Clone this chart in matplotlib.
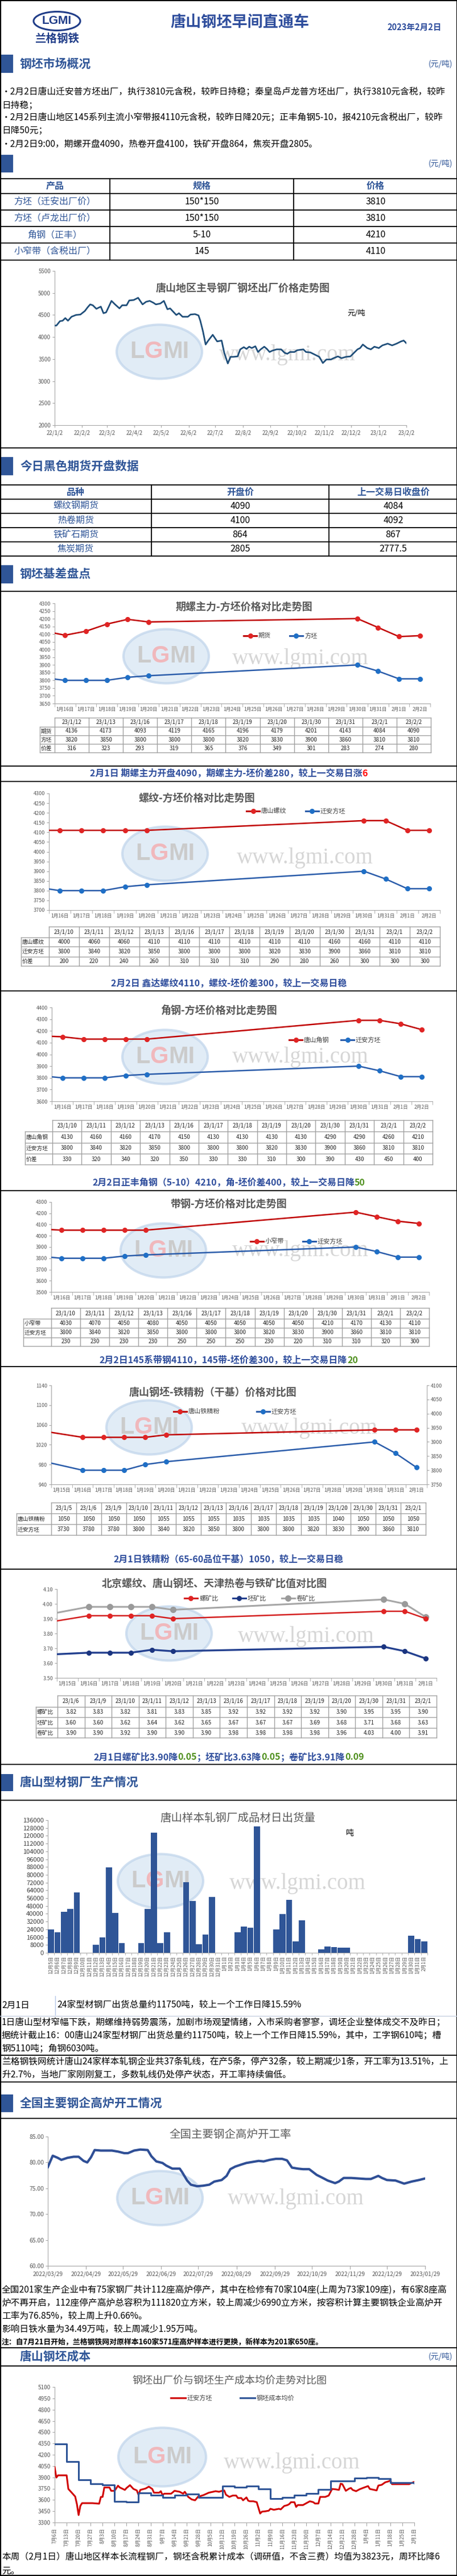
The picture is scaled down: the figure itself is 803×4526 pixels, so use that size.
"""Tangshan billet morning report (唐山钢坯早间直通车), redrawn as one tall figure."""

from datetime import datetime

import matplotlib

matplotlib.use("Agg")
import matplotlib.pyplot as plt
import numpy as np
import pandas as pd
from matplotlib.lines import Line2D
from matplotlib.offsetbox import AnnotationBbox, HPacker, TextArea
from matplotlib.patches import Ellipse, Rectangle
from matplotlib.ticker import FuncFormatter

plt.rcParams["font.family"] = ["Noto Sans CJK SC", "DejaVu Sans"]

W, H = 804, 4526
BLUE = "#2f5597"
NAVY = "#2e4d9c"
GREEN = "#4e8f1c"
AXIS = "#a6a6a6"
TICK = "#595959"
GRID = "#a0a0a0"
TXT = "#262626"
RED_LINE, RED_MARK = "#c00000", "#e02424"
BLUE_LINE, BLUE_MARK = "#2a5caa", "#1f6fc6"

# ---------------- data ----------------
market_product = ["方坯（迁安出厂价）", "方坯（卢龙出厂价）", "角钢（正丰）", "小窄带（含税出厂）"]
market_spec = ["150*150", "150*150", "5-10", "145"]
market_price = [3810, 3810, 4210, 4110]

futures_name = ["螺纹钢期货", "热卷期货", "铁矿石期货", "焦炭期货"]
futures_open = [4090, 4100, 864, 2805]
futures_prev = [4084, 4092, 867, 2777.5]

# 唐山地区主导钢厂钢坯出厂价: days after 2022-01-02
billet_day = [0, 2, 6, 9, 12, 15, 19, 24, 29, 34,
              37, 40, 43, 47, 52, 55, 58, 64, 68, 73,
              76, 81, 84, 89, 94, 99, 103, 107, 111, 114,
              119, 123, 127, 130, 137, 140, 144, 150, 153, 158,
              162, 164, 167, 170, 173, 178, 183, 188, 191, 195,
              198, 201, 206, 209, 213, 216, 219, 222, 226, 229,
              232, 236, 239, 242, 245, 250, 255, 259, 262, 265,
              270, 273, 280, 283, 288, 293, 298, 302, 306, 311,
              314, 319, 323, 328, 333, 336, 341, 344, 347, 352,
              356, 360, 365, 369, 375, 380, 385, 390, 393, 396]
billet_price = [4260, 4260, 4360, 4370, 4430, 4370, 4460, 4500, 4510, 4590,
                4670, 4740, 4720, 4640, 4690, 4540, 4560, 4820, 4740, 4650,
                4720, 4720, 4830, 4840, 4890, 4740, 4800, 4820, 4780, 4740,
                4760, 4820, 4630, 4650, 4500, 4540, 4460, 4460, 4510, 4520,
                4490, 4370, 4130, 3830, 3920, 4050, 3900, 3920, 3640, 3400,
                3550, 3550, 3560, 3720, 3770, 3730, 3780, 3750, 3790, 3660,
                3720, 3780, 3730, 3660, 3690, 3720, 3720, 3640, 3620, 3660,
                3660, 3700, 3720, 3660, 3650, 3600, 3550, 3410, 3490, 3490,
                3520, 3560, 3520, 3550, 3560, 3620, 3720, 3750, 3830, 3750,
                3720, 3780, 3750, 3810, 3850, 3810, 3850, 3900, 3920, 3860]
billet_ticks = ["22/1/2", "22/2/2", "22/3/2", "22/4/2", "22/5/2", "22/6/2", "22/7/2",
                "22/8/2", "22/9/2", "22/10/2", "22/11/2", "22/12/2", "23/1/2", "23/2/2"]

# 期螺主力-方坯
qiluo_dates = ["23/1/12", "23/1/13", "23/1/16", "23/1/17", "23/1/18", "23/1/19",
               "23/1/20", "23/1/30", "23/1/31", "23/2/1", "23/2/2"]
qiluo_futures = [4136, 4173, 4093, 4119, 4165, 4196, 4179, 4201, 4143, 4084, 4090]
qiluo_billet = [3820, 3850, 3800, 3800, 3800, 3820, 3830, 3900, 3860, 3810, 3810]
qiluo_spread = [316, 323, 293, 319, 365, 376, 349, 301, 283, 274, 280]

# 13-day tables: 螺纹 / 角钢 / 带钢 vs 迁安方坯
spot_dates = ["23/1/10", "23/1/11", "23/1/12", "23/1/13", "23/1/16", "23/1/17", "23/1/18",
              "23/1/19", "23/1/20", "23/1/30", "23/1/31", "23/2/1", "23/2/2"]
qianan_billet = [3800, 3840, 3820, 3850, 3800, 3800, 3800, 3820, 3830, 3900, 3860, 3810, 3810]
rebar_price = [4000, 4060, 4060, 4110, 4110, 4110, 4110, 4110, 4110, 4160, 4160, 4110, 4110]
rebar_spread = [200, 220, 240, 260, 310, 310, 310, 290, 280, 260, 300, 300, 300]
angle_price = [4130, 4160, 4160, 4170, 4150, 4130, 4130, 4130, 4130, 4290, 4290, 4260, 4210]
angle_spread = [330, 320, 340, 320, 350, 330, 330, 310, 300, 390, 430, 450, 400]
strip_price = [4030, 4070, 4050, 4080, 4050, 4050, 4050, 4050, 4050, 4210, 4170, 4130, 4110]
strip_spread = [230, 230, 230, 230, 250, 250, 250, 230, 220, 310, 310, 320, 300]

# 铁精粉
ore_dates = ["23/1/5", "23/1/6", "23/1/9", "23/1/10", "23/1/11", "23/1/12", "23/1/13", "23/1/16",
             "23/1/17", "23/1/18", "23/1/19", "23/1/20", "23/1/30", "23/1/31", "23/2/1"]
ore_price = [1050, 1050, 1050, 1050, 1055, 1055, 1055, 1035, 1035, 1035, 1035, 1040, 1050, 1050, 1050]
ore_billet = [3730, 3780, 3780, 3800, 3840, 3820, 3850, 3800, 3800, 3800, 3820, 3830, 3900, 3860, 3810]

# 比值
ratio_dates = ["23/1/6", "23/1/9", "23/1/10", "23/1/11", "23/1/12", "23/1/13", "23/1/16",
               "23/1/17", "23/1/18", "23/1/19", "23/1/20", "23/1/30", "23/1/31", "23/2/1"]
rebar_ratio = [3.82, 3.83, 3.82, 3.81, 3.83, 3.85, 3.92, 3.92, 3.92, 3.92, 3.90, 3.95, 3.95, 3.90]
billet_ratio = [3.60, 3.60, 3.62, 3.64, 3.62, 3.65, 3.67, 3.67, 3.67, 3.69, 3.68, 3.71, 3.68, 3.63]
coil_ratio = [3.90, 3.90, 3.92, 3.90, 3.90, 3.90, 3.98, 3.98, 3.98, 3.98, 3.96, 4.03, 4.00, 3.91]

# 唐山样本轧钢厂成品材日出货量 (2022-12-05 .. 2023-02-01)
ship_tons = [24000, 21000, 42300, 44900, 61900, 0, 0, 8200, 16000, 87400,
             40800, 10100, 0, 0, 10100, 44900, 123400, 10100, 20900, 0,
             0, 72300, 53100, 8600, 18900, 57000, 0, 0, 0, 20900,
             27100, 25400, 129400, 0, 0, 23800, 39400, 54200, 11500, 33000,
             0, 0, 3300, 6200, 5700, 5100, 5100, 0, 0, 0,
             0, 0, 0, 0, 0, 0, 17400, 13920, 11750]

# 全国主要钢企高炉开工率: days after 2022-03-29
blast_day = [0, 4, 8, 11, 16, 21, 25, 29, 32, 35,
             38, 43, 48, 52, 57, 62, 65, 70, 75, 81,
             84, 88, 93, 96, 101, 107, 109, 113, 116, 121,
             126, 131, 135, 141, 145, 148, 152, 157, 161, 166,
             171, 175, 180, 185, 190, 194, 198, 203, 207, 212,
             218, 223, 227, 233, 236, 240, 246, 252, 258, 262,
             268, 271, 275, 282, 289, 295, 301, 306]
blast_rate = [79.1, 81.3, 80.9, 80.5, 80.9, 81.1, 81.1, 80.3, 80.0, 81.0,
              82.4, 82.3, 82.3, 82.3, 82.1, 81.8, 81.8, 82.3, 82.5, 82.4,
              81.2, 80.2, 79.9, 79.4, 78.8, 78.8, 78.1, 76.5, 75.7, 75.4,
              75.5, 75.7, 76.3, 76.6, 77.4, 78.7, 79.2, 79.6, 79.9, 80.1,
              80.3, 80.2, 80.5, 80.7, 80.7, 80.4, 79.0, 78.8, 78.7, 78.7,
              77.6, 77.0, 76.5, 76.0, 76.3, 77.0, 77.0, 76.9, 76.8, 76.8,
              77.4, 77.0, 76.6, 76.5, 75.9, 76.3, 76.6, 76.9]
blast_ticks = ["2022/03/29", "2022/04/29", "2022/05/29", "2022/06/29", "2022/07/29", "2022/08/29",
               "2022/09/29", "2022/10/29", "2022/11/29", "2022/12/29", "2023/01/29"]

# 钢坯出厂价与成本: days after 2022-07-06
qianan_day = [0, 1, 2, 7, 8, 10, 12, 13, 14, 15,
              16, 19, 22, 26, 27, 28, 29, 32, 33, 35,
              37, 38, 41, 42, 44, 46, 48, 49, 50, 53,
              55, 57, 58, 61, 62, 63, 64, 66, 68, 70,
              73, 75, 76, 78, 80, 82, 84, 85, 87, 90,
              94, 96, 97, 99, 100, 102, 104, 106, 107, 109,
              110, 112, 113, 114, 116, 118, 120, 121, 123, 125,
              126, 128, 131, 132, 134, 136, 137, 138, 140, 141,
              142, 145, 147, 149, 151, 152, 154, 155, 158, 160,
              162, 164, 166, 167, 168, 170, 172, 173, 174, 176,
              178, 180, 183, 184, 188, 189, 191, 193, 195, 196,
              197, 200, 203, 207, 208, 210]
qianan_price = [4035, 3897, 3927, 3927, 3746, 3696, 3645, 3545, 3399, 3520,
                3557, 3557, 3557, 3550, 3640, 3640, 3766, 3766, 3721, 3721,
                3789, 3766, 3733, 3759, 3796, 3746, 3726, 3665, 3733, 3751,
                3776, 3746, 3696, 3696, 3716, 3665, 3683, 3683, 3683, 3721,
                3708, 3683, 3708, 3640, 3607, 3595, 3650, 3650, 3665, 3696,
                3716, 3708, 3716, 3726, 3670, 3640, 3658, 3658, 3625, 3625,
                3595, 3633, 3590, 3582, 3582, 3570, 3419, 3444, 3449, 3457,
                3482, 3469, 3482, 3474, 3519, 3532, 3545, 3570, 3570, 3507,
                3532, 3532, 3557, 3582, 3570, 3552, 3552, 3640, 3640, 3658,
                3746, 3741, 3733, 3816, 3809, 3721, 3751, 3759, 3733, 3716,
                3741, 3759, 3784, 3746, 3726, 3791, 3801, 3834, 3847, 3859,
                3809, 3809, 3809, 3809, 3822, 3839]
cost_avg = [4340, 4110, 3870, 3815, 3800, 3580, 3575, 3695, 3665, 3635,
            3665, 3675, 3635, 3635, 3785, 3770, 3785, 3745, 3620, 3635,
            3660, 3685, 3740, 3850, 3855, 3890, 3900, 3885, 3829, 3829,
            3823]

# ---------------- helpers ----------------
fig = plt.figure(figsize=(W / 100, H / 100), dpi=100)


def fx(x):
    return x / W


def fy(y):
    return 1 - y / H


def hline(y, x0=0, x1=W, color="black", lw=1.3):
    fig.add_artist(Line2D([fx(x0), fx(x1)], [fy(y), fy(y)], color=color, lw=lw,
                          transform=fig.transFigure, zorder=5))


def vline(x, y0, y1, color="black", lw=1.3):
    fig.add_artist(Line2D([fx(x), fx(x)], [fy(y0), fy(y1)], color=color, lw=lw,
                          transform=fig.transFigure, zorder=5))


def put(x, y, s, size=11.5, color="black", weight="normal", ha="left", va="center", **kw):
    fig.text(fx(x), fy(y), s, fontsize=size, color=color, fontweight=weight, ha=ha, va=va, **kw)


def to_date(s, fmt="%y/%m/%d"):
    return datetime.strptime(s, fmt)


def day_offsets(dates, start, fmt="%y/%m/%d"):
    return [(to_date(d, fmt) - start).days for d in dates]


def new_axes(left, top, right, bottom):
    ax = fig.add_axes([fx(left), fy(bottom), (right - left) / W, (bottom - top) / H])
    ax.set_facecolor("none")
    for side in ("top", "right"):
        ax.spines[side].set_visible(False)
    for side in ("left", "bottom"):
        ax.spines[side].set_color(AXIS)
    ax.tick_params(color=AXIS, labelcolor=TICK, labelsize=6.5, length=3, pad=2)
    return ax


def section(y0, y1, label, unit=False, bar=True):
    if bar:
        fig.add_artist(Rectangle((0, fy(y1)), fx(23), (y1 - y0) / H, facecolor=BLUE,
                                 edgecolor="none", transform=fig.transFigure, zorder=4))
    if label:
        put(35, (y0 + y1) / 2, label, 15, BLUE, "bold")
    if unit:
        put(795, (y0 + y1) / 2, "(元/吨)", 10, BLUE, ha="right")


def caption(y, parts, size=11.5):
    areas = [TextArea(s, textprops=dict(color=c, fontsize=size, fontweight="bold")) for s, c in parts]
    box = HPacker(children=areas, align="baseline", pad=0, sep=0)
    fig.add_artist(AnnotationBbox(box, (fx(402), fy(y)), xycoords="figure fraction",
                                  frameon=False, box_alignment=(0.5, 0.5)))


def watermark(cx, cy, wx, wy, w=150, h=95):
    fig.add_artist(Ellipse((fx(cx), fy(cy)), w / W, h / H, transform=fig.transFigure,
                           facecolor="#d8e6f4", edgecolor="#c2d6ec", lw=3, alpha=0.75, zorder=-2))
    letters = [("L", "#cbcbcb"), ("G", "#f0b8bc"), ("MI", "#cbcbcb")]
    areas = [TextArea(s, textprops=dict(color=c, fontsize=30, fontweight="bold",
                                        family="Liberation Sans")) for s, c in letters]
    box = HPacker(children=areas, align="baseline", pad=0, sep=0)
    logo = AnnotationBbox(box, (fx(cx), fy(cy)), xycoords="figure fraction",
                          frameon=False, box_alignment=(0.5, 0.5))
    logo.set_zorder(-1)
    fig.add_artist(logo)
    put(wx, wy, "www.lgmi.com", 28, "#d6d6d6", ha="center", family="Liberation Serif", zorder=-1)


def legend_entry(x0, x1, y, label, color, mcolor=None, ms=5.5, lw=2.2):
    fig.add_artist(Line2D([fx(x0), fx(x1)], [fy(y), fy(y)], color=color, lw=lw,
                          transform=fig.transFigure, zorder=5))
    if mcolor:
        fig.add_artist(Line2D([fx((x0 + x1) / 2)], [fy(y)], marker="o", ms=ms, color=mcolor,
                              transform=fig.transFigure, zorder=6))
    put(x1 + 3, y, label, 8, "#404040")


def big_table(xs, ys, header, rows):
    for y in ys:
        hline(y)
    for x in xs[1:-1]:
        vline(x, ys[0], ys[-1])
    centers = [(a + b) / 2 for a, b in zip(xs[:-1], xs[1:])]
    for c, h in zip(centers, header):
        put(c, (ys[0] + ys[1]) / 2, h, 11.5, BLUE, "bold", ha="center")
    for r, row in enumerate(rows):
        yc = (ys[r + 1] + ys[r + 2]) / 2
        for i, (c, v) in enumerate(zip(centers, row)):
            put(c, yc, f"{v:g}" if not isinstance(v, str) else v, 11.5,
                BLUE if i == 0 else "black", ha="center")


def chart_table(lab_x, x0, x1, ys, header, rows, fmt="{:.0f}", size=7):
    n = len(header)
    cw = (x1 - x0) / n
    hline(ys[0], x0, x1, GRID, 1.0)
    for y in ys[1:]:
        hline(y, lab_x, x1, GRID, 1.0)
    vline(lab_x, ys[1], ys[-1], GRID, 1.0)
    for i in range(n + 1):
        vline(x0 + i * cw, ys[0], ys[-1], GRID, 1.0)
    for i, h in enumerate(header):
        put(x0 + (i + 0.5) * cw, (ys[0] + ys[1]) / 2, h, size, TXT, ha="center")
    for r, (name, vals) in enumerate(rows):
        yc = (ys[r + 1] + ys[r + 2]) / 2
        put(lab_x + 2, yc, name, size, TXT)
        for i, v in enumerate(vals):
            put(x0 + (i + 0.5) * cw, yc, fmt.format(v), size, TXT, ha="center")


def category_axes(box, ylim, ystep, cat_start, fmt="{:.0f}", n=18):
    ax = new_axes(*box)
    ax.set_xlim(-0.5, n - 0.5)
    ax.set_ylim(*ylim)
    ax.set_yticks(np.arange(ylim[0], ylim[1] + ystep / 2, ystep))
    ax.yaxis.set_major_formatter(FuncFormatter(lambda v, p: fmt.format(v)))
    labels = [f"{d.month}月{d.day}日" for d in pd.date_range(cat_start, periods=n)]
    ax.set_xticks(range(n), labels)
    ax.set_xticks(np.arange(-0.5, n, 1), minor=True)
    ax.tick_params(axis="x", which="major", length=0, pad=4, labelsize=6.2)
    ax.tick_params(axis="x", which="minor", length=4, color=AXIS)
    return ax


def plot_series(ax, x, vals, line, mark, lw=1.8, ms=5.5):
    ax.plot(x, vals, color=line, lw=lw, marker="o", ms=ms, mfc=mark, mec=mark,
            solid_joinstyle="round", zorder=3)


# ---------------- page frame & header ----------------
vline(1, 0, H, lw=1.5)
vline(803, 0, H, lw=1.5)
hline(1, lw=1.5)
hline(4525, lw=1.5)

fig.add_artist(Ellipse((fx(100), fy(37)), 82 / W, 33 / H, transform=fig.transFigure,
                       facecolor="white", edgecolor="#1f3c88", lw=2.2))
put(100, 37, "LGMI", 15, "#1f3c88", "bold", ha="center", family="Liberation Sans")
put(100, 68, "兰格钢铁", 14, "#1f3c88", "bold", ha="center")
put(421, 39, "唐山钢坯早间直通车", 19.5, NAVY, "bold", ha="center")
put(728, 48, "2023年2月2日", 10.5, NAVY, "bold", ha="center")

section(96, 128, "钢坯市场概况", unit=True)
market_lines = [
    "•2月2日唐山迁安普方坯出厂，执行3810元含税，较昨日持稳；秦皇岛卢龙普方坯出厂，执行3810元含税，较昨",
    "日持稳；",
    "•2月2日唐山地区145系列主流小窄带报4110元含税，较昨日降20元；正丰角钢5-10，报4210元含税出厂，较昨",
    "日降50元；",
    "•2月2日9:00，期螺开盘4090，热卷开盘4100，铁矿开盘864，焦炭开盘2805。",
]
for i, line in enumerate(market_lines):
    put(3, 162 + i * 22.7, line, 11.3)

section(272, 303, "", unit=True)
big_table([0, 193, 516, W], [314, 340, 369, 398, 427, 457], ["产品", "规格", "价格"],
          list(zip(market_product, market_spec, market_price)))

# ---------------- chart 1: long price trend ----------------
start1 = datetime(2022, 1, 2)
ax = new_axes(96, 476, 714, 747)
ax.plot(billet_day, billet_price, color="#1f4e79", lw=2.0, zorder=3)
ax.set_xlim(0, (to_date(billet_ticks[-1]) - start1).days)
ax.set_ylim(2000, 5500)
ax.set_yticks(np.arange(2000, 5501, 500))
ax.set_xticks(day_offsets(billet_ticks, start1), billet_ticks)
ax.tick_params(axis="x", labelsize=7, pad=3)
ax.tick_params(axis="y", labelsize=7)
put(427, 507, "唐山地区主导钢厂钢坯出厂价格走势图", 13, "#595959", "bold", ha="center")
put(626, 550, "元/吨", 9.5, "black", ha="center")
watermark(280, 618, 505, 623)
hline(787)

section(803, 835, "今日黑色期货开盘数据")
big_table([0, 266, 578, W], [852, 877, 902, 927, 952, 977], ["品种", "开盘价", "上一交易日收盘价"],
          list(zip(futures_name, futures_open, futures_prev)))
section(993, 1025, "钢坯基差盘点")
hline(1039)

# ---------------- 期螺主力-方坯 ----------------
cat16 = datetime(2023, 1, 16)
ax = category_axes((96, 1060, 756, 1236), (3650, 4300), 50, cat16)
x = day_offsets(qiluo_dates, cat16)
plot_series(ax, x, qiluo_futures, RED_LINE, RED_MARK)
plot_series(ax, x, qiluo_billet, BLUE_LINE, BLUE_MARK)
put(429, 1066, "期螺主力-方坯价格对比走势图", 13, "#595959", "bold", ha="center")
legend_entry(428, 451, 1117, "期货", RED_LINE, RED_MARK)
legend_entry(509, 532, 1117, "方坯", BLUE_LINE, BLUE_MARK)
watermark(292, 1153, 528, 1157)
chart_table(70, 96, 757, [1261, 1277, 1292, 1307, 1322], qiluo_dates,
            [("期货", qiluo_futures), ("方坯", qiluo_billet), ("价差", qiluo_spread)])
hline(1346)
caption(1359, [("2月1日 期螺主力开盘4090，期螺主力-坯价差280，较上一交易日涨", NAVY), ("6", "red")])
hline(1373)

# ---------------- 螺纹-方坯 ----------------
ax = category_axes((86, 1394, 773, 1599), (3700, 4300), 50, cat16)
x = day_offsets(spot_dates, cat16)
plot_series(ax, x, rebar_price, RED_LINE, RED_MARK)
plot_series(ax, x, qianan_billet, BLUE_LINE, BLUE_MARK)
put(346, 1402, "螺纹-方坯价格对比走势图", 13, "#595959", "bold", ha="center")
legend_entry(433, 456, 1425, "唐山螺纹", RED_LINE, RED_MARK)
legend_entry(537, 560, 1425, "迁安方坯", BLUE_LINE, BLUE_MARK)
watermark(290, 1500, 536, 1507)
chart_table(37, 86, 773, [1628, 1647, 1663, 1681, 1697], spot_dates,
            [("唐山螺纹", rebar_price), ("迁安方坯", qianan_billet), ("价差", rebar_spread)])
caption(1728, [("2月2日 鑫达螺纹4110，螺纹-坯价差300，较上一交易日稳", NAVY)])
hline(1741)

# ---------------- 角钢-方坯 ----------------
ax = category_axes((91, 1770, 760, 1935), (3600, 4400), 100, cat16)
plot_series(ax, x, angle_price, RED_LINE, RED_MARK)
plot_series(ax, x, qianan_billet, BLUE_LINE, BLUE_MARK)
put(384, 1775, "角钢-方坯价格对比走势图", 13, "#595959", "bold", ha="center")
legend_entry(508, 531, 1827, "唐山角钢", RED_LINE, RED_MARK)
legend_entry(599, 622, 1827, "迁安方坯", BLUE_LINE, BLUE_MARK)
watermark(290, 1857, 528, 1858)
chart_table(44, 92, 760, [1968, 1988, 2008, 2027, 2046], spot_dates,
            [("唐山角钢", angle_price), ("迁安方坯", qianan_billet), ("价差", angle_spread)])
caption(2078, [("2月2日正丰角钢（5-10）4210，角-坯价差400，较上一交易日降", NAVY), ("50", GREEN)])
hline(2092)

# ---------------- 带钢-方坯 ----------------
ax = category_axes((90, 2112, 754, 2270), (3500, 4300), 100, cat16)
plot_series(ax, x, strip_price, RED_LINE, RED_MARK)
plot_series(ax, x, qianan_billet, BLUE_LINE, BLUE_MARK)
put(401, 2116, "带钢-方坯价格对比走势图", 13, "#595959", "bold", ha="center")
legend_entry(440, 463, 2181, "小窄带", RED_LINE, RED_MARK)
legend_entry(532, 555, 2181, "迁安方坯", BLUE_LINE, BLUE_MARK)
watermark(287, 2197, 528, 2198)
chart_table(41, 90, 754, [2298, 2317, 2333, 2350, 2365], spot_dates,
            [("小窄带", strip_price), ("迁安方坯", qianan_billet), ("", strip_spread)])
caption(2390, [("2月2日145系带钢4110，145带-坯价差300，较上一交易日降", NAVY), ("20", GREEN)])
hline(2401)

# ---------------- 钢坯-铁精粉 ----------------
cat15 = datetime(2023, 1, 15)
ax = category_axes((90, 2434, 750, 2608), (940, 1140), 40, cat15)
ax2 = ax.twinx()
ax2.set_facecolor("none")
ax2.set_ylim(3750, 4100)
ax2.set_yticks(np.arange(3750, 4101, 50))
for side in ("top", "left", "bottom"):
    ax2.spines[side].set_visible(False)
ax2.spines["right"].set_color(AXIS)
ax2.tick_params(color=AXIS, labelcolor=TICK, labelsize=6.5, length=3, pad=2)
x = day_offsets(ore_dates, cat15)
plot_series(ax, x, ore_price, RED_LINE, RED_MARK)
plot_series(ax2, x, ore_billet, BLUE_LINE, BLUE_MARK)
put(374, 2447, "唐山钢坯-铁精粉（干基）价格对比图", 13, "#595959", "bold", ha="center")
legend_entry(305, 328, 2480, "唐山铁精粉", RED_LINE, RED_MARK)
legend_entry(451, 474, 2480, "迁安方坯", BLUE_LINE, BLUE_MARK)
watermark(262, 2508, 544, 2510)
chart_table(29, 90, 748, [2640, 2659, 2678, 2697], ore_dates,
            [("唐山铁精粉", ore_price), ("迁安方坯", ore_billet)])
caption(2740, [("2月1日铁精粉（65-60品位干基）1050，较上一交易日稳", NAVY)])
hline(2757)

# ---------------- 比值 ----------------
ax = category_axes((100, 2792, 767, 2948), (3.5, 4.1), 0.1, cat15, fmt="{:.2f}")
x = day_offsets(ratio_dates, cat15)
plot_series(ax, x, coil_ratio, "#a6a6a6", "#9a9a9a", lw=2.2, ms=7)
plot_series(ax, x, rebar_ratio, "#d42020", "#e02424")
plot_series(ax, x, billet_ratio, "#23408f", "#1b3580", lw=2.4)
put(377, 2783, "北京螺纹、唐山钢坯、天津热卷与铁矿比值对比图", 13, "#595959", "bold", ha="center")
legend_entry(324, 347, 2808, "螺矿比", "#d42020", "#e02424")
legend_entry(409, 432, 2808, "坯矿比", "#23408f", "#1b3580")
legend_entry(495, 518, 2808, "卷矿比", "#a6a6a6", "#9a9a9a", ms=7)
watermark(297, 2870, 538, 2875)
chart_table(63, 101, 767, [2979, 2999, 3017, 3036, 3053], ratio_dates,
            [("螺矿比", rebar_ratio), ("坯矿比", billet_ratio), ("卷矿比", coil_ratio)], fmt="{:.2f}")
caption(3087, [("2月1日螺矿比3.90降", NAVY), ("0.05", GREEN), ("；坯矿比3.63降", NAVY), ("0.05", GREEN),
               ("；卷矿比3.91降", NAVY), ("0.09", GREEN)])
hline(3100)

# ---------------- 型材出货量 ----------------
section(3117, 3147, "唐山型材钢厂生产情况")
hline(3163)
ship_dates = pd.date_range("2022-12-05", "2023-02-01")
ship_labels = [f"{d.month}月{d.day}日" for d in ship_dates]
ax = new_axes(84, 3198, 751, 3431)
ax.bar(range(len(ship_tons)), ship_tons, width=0.95, color=BLUE, zorder=3)
ax.set_xlim(-0.5, len(ship_tons) - 0.5)
ax.set_ylim(0, 136000)
ax.set_yticks(np.arange(0, 136001, 8000))
ax.set_xticks(range(len(ship_tons)), ship_labels, rotation=90)
ax.set_xticks(np.arange(-0.5, len(ship_tons), 1), minor=True)
ax.tick_params(axis="x", which="major", length=0, pad=4, labelsize=6.2)
ax.tick_params(axis="x", which="minor", length=3, color=AXIS)
ax.tick_params(axis="y", labelsize=8, labelcolor="#404040")
put(418, 3194, "唐山样本轧钢厂成品材日出货量", 14, "#595959", ha="center")
put(615, 3221, "吨", 10, "black", ha="center")
watermark(282, 3305, 523, 3310)

put(3, 3523, "2月1日", 11.3)
vline(97, 3507, 3540, "#b4c6e7", 1.0)
put(100, 3523, "24家型材钢厂出货总量约11750吨，较上一个工作日降15.59%", 11.3)
hline(3542, color="#c5cfe0", lw=1.0)
ship_lines = [
    "1日唐山型材窄幅下跌，期螺维持弱势震荡，加剧市场观望情绪，入市采购者寥寥，调坯企业整体成交不及昨日；",
    "据统计截止16：00唐山24家型材钢厂出货总量约11750吨，较上一个工作日降15.59%，其中，工字钢610吨；槽",
    "钢5110吨；角钢6030吨。",
]
for i, line in enumerate(ship_lines):
    put(3, 3554 + i * 22.7, line, 11.3)
hline(3611)
mill_lines = [
    "兰格钢铁网统计唐山24家样本轧钢企业共37条轧线，在产5条，停产32条，较上期减少1条，开工率为13.51%，上",
    "升2.7%，当地厂家刚刚复工，多数轧线仍处停产状态，开工率持续偏低。",
]
for i, line in enumerate(mill_lines):
    put(3, 3623 + i * 23, line, 11.3)
hline(3658)

# ---------------- 高炉开工率 ----------------
section(3680, 3711, "全国主要钢企高炉开工情况")
hline(3722)
start_b = datetime(2022, 3, 29)
ax = new_axes(84, 3754, 747, 3981)
ax.plot(blast_day, blast_rate, color="#2f4f96", lw=3.0, solid_joinstyle="round", zorder=3)
ax.set_xlim(0, (to_date(blast_ticks[-1], "%Y/%m/%d") - start_b).days)
ax.set_ylim(60, 85)
ax.set_yticks(np.arange(60, 85.1, 5))
ax.yaxis.set_major_formatter(FuncFormatter(lambda v, p: f"{v:.2f}"))
ax.set_xticks(day_offsets(blast_ticks, start_b, "%Y/%m/%d"), blast_ticks)
ax.tick_params(axis="x", labelsize=7.3, pad=3, length=4)
ax.tick_params(axis="y", labelsize=7.5)
put(405, 3750, "全国主要钢企高炉开工率", 14, "#595959", ha="center")
watermark(281, 3862, 520, 3863)
blast_lines = [
    "全国201家生产企业中有75家钢厂共计112座高炉停产，其中在检修有70家104座(上周为73家109座)，有6家8座高",
    "炉不再开启，112座停产高炉总容积为111820立方米，较上周减少6990立方米，按容积计算主要钢铁企业高炉开",
    "工率为76.85%，较上周上升0.66%。",
    "影响日铁水量为34.49万吨，较上周减少1.95万吨。",
]
for i, line in enumerate(blast_lines):
    put(3, 4023 + i * 23.3, line, 11.3)
put(3, 4115, "注：自7月21日开始，兰格钢铁网对原样本160家571座高炉样本进行更换，新样本为201家650座。",
    9.3, "black", "bold")
hline(4125)

# ---------------- 钢坯成本 ----------------
section(4125, 4157, "唐山钢坯成本", unit=True, bar=False)
hline(4157)
start_c = datetime(2022, 7, 6)
cost_weeks = pd.date_range("2022-07-06", "2023-02-01", freq="7D")
cost_x = [(d - pd.Timestamp(start_c)).days for d in cost_weeks]
ax = new_axes(96, 4194, 728, 4432)
ax.plot(qianan_day, qianan_price, color="#d00000", lw=2.2, zorder=3)
ax.plot(cost_x, cost_avg, color=BLUE, lw=2.2, drawstyle="steps-post", zorder=3)
ax.set_xlim(cost_x[0], cost_x[-1])
ax.set_ylim(3300, 5100)
ax.set_yticks(np.arange(3300, 5101, 150))
ax.set_xticks(cost_x, [f"{d.month}月{d.day}日" for d in cost_weeks], rotation=90)
ax.tick_params(axis="x", labelsize=6.3, pad=3, length=4)
ax.tick_params(axis="y", labelsize=7.2)
put(403, 4183, "钢坯出厂价与钢坯生产成本均价走势对比图", 13, "#595959", ha="center")
legend_entry(300, 326, 4213, "迁安方坯", "#d00000")
legend_entry(422, 448, 4213, "钢坯成本均价", BLUE)
watermark(285, 4317, 513, 4327, w=154, h=103)
put(3, 4493, "本周（2月1日）唐山地区样本长流程钢厂，钢坯含税累计成本（调研值，不含三费）均值为3823元，周环比降6",
    11.3)
put(3, 4517, "元。", 11.3)

fig.savefig("out.png", dpi=100, facecolor="white")
